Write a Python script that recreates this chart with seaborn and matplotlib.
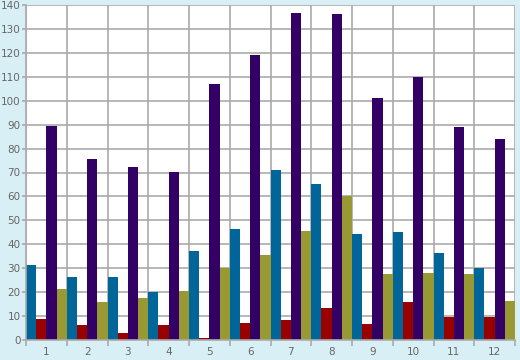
import matplotlib
matplotlib.use("Agg")
import matplotlib.pyplot as plt
import seaborn as sns
import pandas as pd

categories = ["1", "2", "3", "4", "5", "6", "7", "8", "9", "10", "11", "12"]
series_names = ["S1", "S2", "S3", "S4"]
s1_blue = [31.3, 26.3, 26.3, 20, 37.2, 46.3, 70.9, 65.2, 44.2, 45, 36.4, 30]
s2_red = [8.8, 6.3, 2.9, 6.2, 0.8, 7.1, 8.4, 13.4, 6.7, 16, 9.6, 9.6]
s3_purple = [89.3, 75.5, 72.2, 70.1, 107, 119, 136.6, 136.2, 101, 109.9, 88.9, 83.9]
s4_olive = [21.3, 15.9, 17.5, 20.5, 30, 35.5, 45.6, 60.1, 27.6, 28, 27.5, 16.3]
colors = ["#006699", "#990000", "#330066", "#999933"]
yticks = list(range(0, 141, 10))

rows = []
for name, vals in zip(series_names, [s1_blue, s2_red, s3_purple, s4_olive]):
    for c, v in zip(categories, vals):
        rows.append({"cat": c, "series": name, "val": v})
df = pd.DataFrame(rows)

bg = "#d9eff6"
grid = "#aaaaaa"
txt = "#666666"

fig = plt.figure(figsize=(5.2, 3.6), dpi=100, facecolor=bg)
ax = fig.add_axes([26/520, 20/360, 489/520, 335/360])
ax.set_facecolor("white")

sns.barplot(data=df, x="cat", y="val", hue="series", order=categories,
            hue_order=series_names, palette=colors, width=1.0, gap=0,
            saturation=1, linewidth=0, legend=False, ax=ax, errorbar=None)

ax.set_xlim(-0.5, len(categories) - 0.5)
ax.set_ylim(0, 140)
ax.set_yticks(yticks)
ax.set_yticklabels([str(t) for t in yticks])
ax.set_xticks(range(len(categories)))
ax.set_xticklabels(categories)
ax.set_xticks([i + 0.5 for i in range(-1, len(categories))], minor=True)

ax.set_axisbelow(True)
ax.yaxis.grid(True, color=grid, linewidth=1.2)
ax.xaxis.grid(True, which="minor", color=grid, linewidth=1.2)
ax.xaxis.grid(False, which="major")

ax.tick_params(axis="x", which="major", length=0, labelsize=7.5, labelcolor=txt, pad=5)
ax.tick_params(axis="x", which="minor", length=4, color=grid, width=1.2)
ax.tick_params(axis="y", length=3, color=grid, width=1.2, labelsize=7.5, labelcolor=txt, pad=1)

for s in ["top", "right"]:
    ax.spines[s].set_visible(False)
for s in ["left", "bottom"]:
    ax.spines[s].set_color(grid)
    ax.spines[s].set_linewidth(1.2)

ax.set_xlabel("")
ax.set_ylabel("")

fig.savefig("out.png", dpi=100, facecolor=bg)
